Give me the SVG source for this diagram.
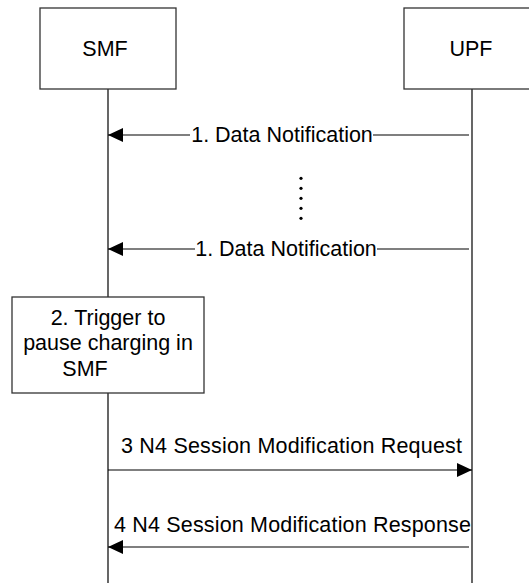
<svg xmlns="http://www.w3.org/2000/svg" width="529" height="583" viewBox="0 0 529 583">
<style>
.box{fill:#fff;stroke:#333;stroke-width:1.3}
.ln{stroke:#000;stroke-width:1.2;fill:none}
.t{font-family:"Liberation Sans",Arial,sans-serif;font-size:21.5px;fill:#000}
.m{text-anchor:middle}
</style>
<defs>
<marker id="ah" markerWidth="15" markerHeight="14" refX="15" refY="7" orient="auto" markerUnits="userSpaceOnUse">
<path d="M0,0 L15,7 L0,14 Z" fill="#000"/>
</marker>
</defs>
<rect width="529" height="583" fill="#fff"/>
<g id="lifelines">
<line class="ln" x1="108" y1="89" x2="108" y2="297"/>
<line class="ln" x1="108" y1="393" x2="108" y2="583"/>
<line class="ln" x1="472" y1="89" x2="472" y2="583"/>
</g>
<g id="smf">
<rect class="box" x="40" y="8" width="136" height="81"/>
<text class="t m" x="105" y="56">SMF</text>
</g>
<g id="upf">
<rect class="box" x="404" y="8" width="136" height="81"/>
<text class="t m" x="471" y="56">UPF</text>
</g>
<g id="trigger">
<rect class="box" x="12" y="297" width="192" height="96"/>
<text class="t m" x="108" y="325">2. Trigger to</text>
<text class="t m" x="108" y="350">pause charging in</text>
<text class="t m" x="85" y="376">SMF</text>
</g>
<g id="connectors">
<line class="ln" x1="190" y1="135" x2="108" y2="135" marker-end="url(#ah)"/>
<line class="ln" x1="373" y1="135" x2="469" y2="135"/>
<line class="ln" x1="195" y1="249" x2="108" y2="249" marker-end="url(#ah)"/>
<line class="ln" x1="377" y1="249" x2="469" y2="249"/>
<line class="ln" x1="108" y1="470" x2="472" y2="470" marker-end="url(#ah)"/>
<line class="ln" x1="469" y1="547" x2="108" y2="547" marker-end="url(#ah)"/>
<g fill="#000">
<circle cx="301" cy="178.3" r="1.6"/>
<circle cx="301" cy="188.3" r="1.6"/>
<circle cx="301" cy="198.3" r="1.6"/>
<circle cx="301" cy="208.3" r="1.6"/>
<circle cx="301" cy="218.3" r="1.6"/>
</g>
<text class="t m" x="282" y="142">1. Data Notification</text>
<text class="t m" x="286" y="256">1. Data Notification</text>
<text class="t" x="121" y="453" textLength="341">3 N4 Session Modification Request</text>
<text class="t" x="114" y="532" textLength="357">4 N4 Session Modification Response</text>
</g>
</svg>
